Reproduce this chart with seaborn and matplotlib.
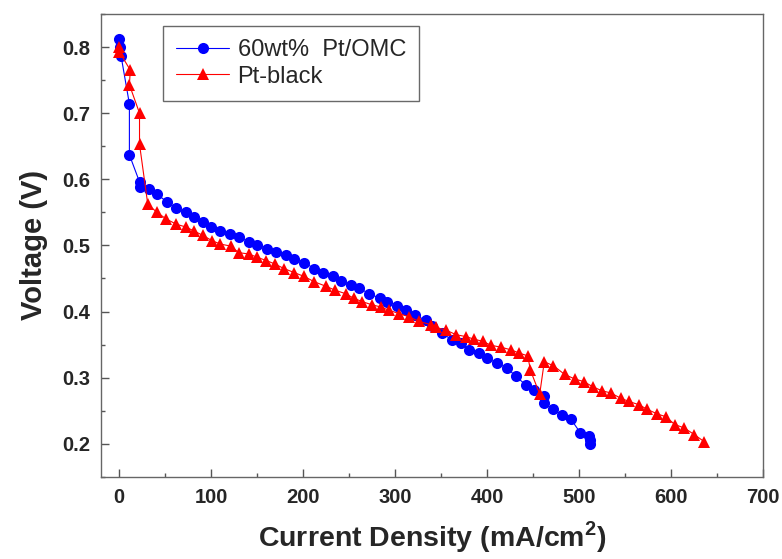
import numpy as np
import pandas as pd
import matplotlib
matplotlib.use("Agg")
import matplotlib.pyplot as plt
import matplotlib.ticker as ticker
import seaborn as sns

# 60wt% Pt/OMC (blue circles)
omc_j = [0, 1, 2, 11, 11, 22, 22, 32, 41, 52, 62, 72, 81, 91, 100, 110, 120, 130, 141, 150,
         161, 170, 181, 190, 201, 212, 221, 232, 241, 252, 261, 272, 283, 291, 302, 312,
         322, 333, 340, 351, 362, 371, 380, 391, 400, 411, 422, 431, 442, 451, 462, 462,
         471, 481, 491, 501, 511, 512, 512]
omc_v = [0.812, 0.800, 0.786, 0.714, 0.637, 0.596, 0.588, 0.585, 0.577, 0.566, 0.556, 0.550,
         0.543, 0.535, 0.528, 0.522, 0.517, 0.513, 0.505, 0.500, 0.495, 0.490, 0.485, 0.479,
         0.474, 0.465, 0.459, 0.453, 0.446, 0.440, 0.435, 0.427, 0.420, 0.415, 0.409, 0.402,
         0.394, 0.387, 0.378, 0.367, 0.357, 0.352, 0.342, 0.337, 0.329, 0.322, 0.314, 0.302,
         0.289, 0.282, 0.272, 0.262, 0.252, 0.244, 0.237, 0.217, 0.212, 0.206, 0.200]

# Pt-black (red triangles)
ptb_j = [0, 0, 12, 11, 22, 22, 31, 41, 51, 62, 72, 81, 91, 101, 110, 121, 130, 141, 150, 160,
         169, 179, 190, 201, 212, 225, 235, 246, 255, 264, 275, 284, 293, 304, 315, 326, 339,
         344, 355, 366, 377, 386, 395, 404, 415, 426, 435, 444, 447, 457, 462, 472, 484, 495,
         505, 515, 525, 534, 545, 554, 565, 574, 585, 594, 604, 614, 625, 636]
ptb_v = [0.800, 0.793, 0.765, 0.743, 0.700, 0.653, 0.562, 0.550, 0.540, 0.532, 0.528, 0.522,
         0.515, 0.507, 0.502, 0.499, 0.489, 0.487, 0.482, 0.477, 0.472, 0.465, 0.459, 0.453,
         0.445, 0.438, 0.432, 0.427, 0.420, 0.415, 0.410, 0.407, 0.402, 0.397, 0.392, 0.385,
         0.380, 0.376, 0.372, 0.365, 0.362, 0.358, 0.355, 0.349, 0.346, 0.342, 0.337, 0.333,
         0.311, 0.275, 0.324, 0.318, 0.305, 0.298, 0.294, 0.286, 0.280, 0.277, 0.269, 0.264,
         0.259, 0.252, 0.245, 0.241, 0.229, 0.224, 0.214, 0.203]

sns.set_style("ticks")
plt.rcParams['font.family'] = ['Liberation Sans', 'DejaVu Sans']

fig, ax = plt.subplots(figsize=(7.82, 5.59), dpi=100)
fig.subplots_adjust(left=0.129, right=0.976, bottom=0.147, top=0.975)

sns.lineplot(x=omc_j, y=omc_v, sort=False, estimator=None, ax=ax, color="#0000ff", lw=0.8,
             marker="o", markersize=8, markeredgewidth=0, label="60wt%  Pt/OMC")
sns.lineplot(x=ptb_j, y=ptb_v, sort=False, estimator=None, ax=ax, color="#ff0000", lw=0.8,
             marker="^", markersize=9, markeredgewidth=0, label="Pt-black")

ax.set_xlim(-20, 700)
ax.set_ylim(0.15, 0.85)
ax.xaxis.set_major_locator(ticker.MultipleLocator(100))
ax.xaxis.set_minor_locator(ticker.MultipleLocator(50))
ax.yaxis.set_major_locator(ticker.MultipleLocator(0.1))
ax.yaxis.set_minor_locator(ticker.MultipleLocator(0.05))
ax.yaxis.set_major_formatter(ticker.FormatStrFormatter("%.1f"))
ax.tick_params(which="both", direction="in", color="#555555")
ax.tick_params(which="major", length=6, width=1, pad=8, labelsize=14.5)
ax.tick_params(which="minor", length=3, width=1)
for lbl in ax.get_xticklabels() + ax.get_yticklabels():
    lbl.set_fontweight("bold")
for sp in ax.spines.values():
    sp.set_color("#666666")
    sp.set_linewidth(1)

ax.set_xlabel(r"Current Density (mA/cm$^\mathregular{2}$)", fontsize=20.5, fontweight="bold", labelpad=9)
ax.set_ylabel("Voltage (V)", fontsize=21, fontweight="bold", labelpad=10)

leg = ax.legend(loc="upper left", bbox_to_anchor=(0.094, 0.974), fontsize=17, frameon=True,
                fancybox=False, handlelength=2.25, handletextpad=0.35, borderpad=0.55,
                labelspacing=0.2, borderaxespad=0)
leg.get_frame().set_edgecolor("#444444")
leg.get_frame().set_linewidth(1)

fig.savefig("out.png", dpi=100)
